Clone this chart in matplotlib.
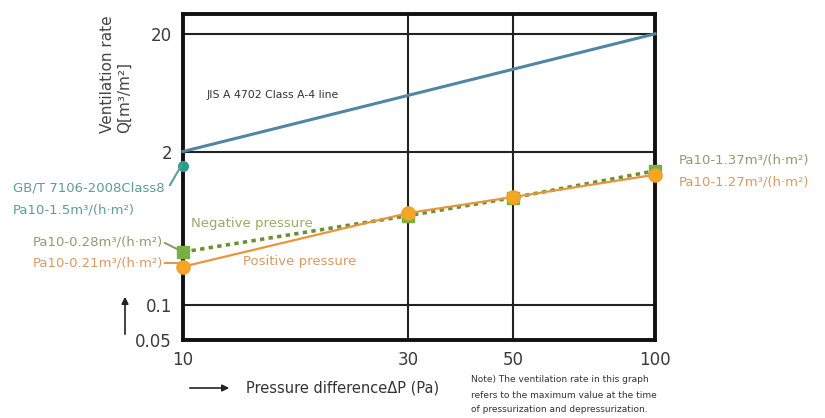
import matplotlib
matplotlib.use("Agg")
import matplotlib.pyplot as plt
from matplotlib.ticker import FixedLocator, NullLocator, FixedFormatter

plt.rcParams['font.family'] = ['DejaVu Sans']

# ---- data ----
pressure = [10, 30, 50, 100]
positive = [0.21, 0.60, 0.82, 1.27]
negative = [0.28, 0.57, 0.81, 1.37]
jis_x = [10, 100]
jis_y = [2, 20]
gb_x = [10]
gb_y = [1.5]
x_ticks = [10, 30, 50, 100]
x_tick_labels = ["10", "30", "50", "100"]
y_ticks = [0.05, 0.1, 2, 20]
y_tick_labels = ["0.05", "0.1", "2", "20"]

W, H = 825, 418
fig = plt.figure(figsize=(W / 100, H / 100), dpi=100)

def fx(px):
    return px / W

def fy(py):
    return 1 - py / H

ax = fig.add_axes([fx(183), fy(340), fx(655) - fx(183), fy(14) - fy(340)])
ax.set_xscale('log')
ax.set_yscale('log')
ax.set_xlim(10, 100)
ax.set_ylim(0.05, 29.5)

ax.xaxis.set_major_locator(FixedLocator(x_ticks))
ax.xaxis.set_major_formatter(FixedFormatter(x_tick_labels))
ax.xaxis.set_minor_locator(NullLocator())
ax.yaxis.set_major_locator(FixedLocator(y_ticks))
ax.yaxis.set_major_formatter(FixedFormatter(y_tick_labels))
ax.yaxis.set_minor_locator(NullLocator())
ax.tick_params(length=0, labelsize=12, colors='#3a3a3a', pad=8)

for yv in [0.1, 2, 20]:
    ax.axhline(yv, color='#222222', lw=1.5, zorder=1)
for xv in [30, 50]:
    ax.axvline(xv, color='#222222', lw=1.5, zorder=1)
for s in ax.spines.values():
    s.set_linewidth(2.8)
    s.set_color('#111111')
    s.set_zorder(3)

# JIS line
ax.plot(jis_x, jis_y, color='#4f87a3', lw=2.2, zorder=4, clip_on=False)
# GB/T point
ax.plot(gb_x, gb_y, 'o', color='#2a9d8f', ms=7, zorder=6, clip_on=False)
# Negative pressure
ax.plot(pressure, negative, linestyle=(0, (1.2, 1.2)), color='#6d8f35', lw=2.6, zorder=4,
        marker='s', ms=8, mfc='#78b043', mec='#78b043', clip_on=False)
# Positive pressure
ax.plot(pressure, positive, linestyle='-', color='#e8963e', lw=1.6, zorder=5,
        marker='o', ms=9.5, mfc='#f5a623', mec='#f0a030', clip_on=False)

ax.text(0.05, 0.75, "JIS A 4702 Class A-4 line", transform=ax.transAxes,
        fontsize=7.8, color='#333333', ha='left', va='center')

# Y axis label
fig.text(fx(116), fy(74), "Ventilation rate\nQ[m³/m²]", rotation=90, ha='center',
         va='center', fontsize=11, color='#444444', multialignment='left',
         linespacing=1.1)

# annotations
teal = '#5f9e8f'
olive = '#8f9d6e'
olive2 = '#9aab66'
tan = '#d99a62'
fs = 9.5
fig.text(fx(13), fy(188), "GB/T 7106-2008Class8", fontsize=fs, color=teal,
         ha='left', va='center')
fig.text(fx(13), fy(210), "Pa10-1.5m³/(h·m²)", fontsize=fs, color=teal,
         ha='left', va='center')
fig.add_artist(plt.Line2D([fx(170), fx(181)], [fy(185), fy(166)], color=teal, lw=1.5))

fig.text(fx(191), fy(224), "Negative pressure", fontsize=fs, color=olive2,
         ha='left', va='center')
fig.text(fx(163), fy(242), "Pa10-0.28m³/(h·m²)", fontsize=fs, color=olive,
         ha='right', va='center')
fig.add_artist(plt.Line2D([fx(165), fx(179)], [fy(243), fy(250)], color=olive, lw=1.5))
fig.text(fx(163), fy(263), "Pa10-0.21m³/(h·m²)", fontsize=fs, color=tan,
         ha='right', va='center')
fig.add_artist(plt.Line2D([fx(165), fx(178)], [fy(263), fy(263)], color=tan, lw=1.5))
fig.text(fx(243), fy(262), "Positive pressure", fontsize=fs, color=tan,
         ha='left', va='center')

fig.text(fx(679), fy(160), "Pa10-1.37m³/(h·m²)", fontsize=fs, color=olive,
         ha='left', va='center')
fig.text(fx(679), fy(182), "Pa10-1.27m³/(h·m²)", fontsize=fs, color=tan,
         ha='left', va='center')

# arrows
fig.add_artist(matplotlib.patches.FancyArrowPatch((fx(187), fy(388)), (fx(232), fy(388)),
               transform=fig.transFigure, arrowstyle='-|>', mutation_scale=10,
               color='#222222', lw=1.2))
fig.add_artist(matplotlib.patches.FancyArrowPatch((fx(125), fy(337)), (fx(125), fy(294)),
               transform=fig.transFigure, arrowstyle='-|>', mutation_scale=10,
               color='#222222', lw=1.2))
fig.text(fx(246), fy(388), "Pressure differenceΔP (Pa)", fontsize=10.5, color='#333333',
         ha='left', va='center')

fig.text(fx(471), fy(380), "Note) The ventilation rate in this graph", fontsize=6.5,
         color='#333333', ha='left', va='center')
fig.text(fx(471), fy(395), "refers to the maximum value at the time", fontsize=6.5,
         color='#333333', ha='left', va='center')
fig.text(fx(471), fy(410), "of pressurization and depressurization.", fontsize=6.5,
         color='#333333', ha='left', va='center')

fig.savefig("out.png", dpi=100)
